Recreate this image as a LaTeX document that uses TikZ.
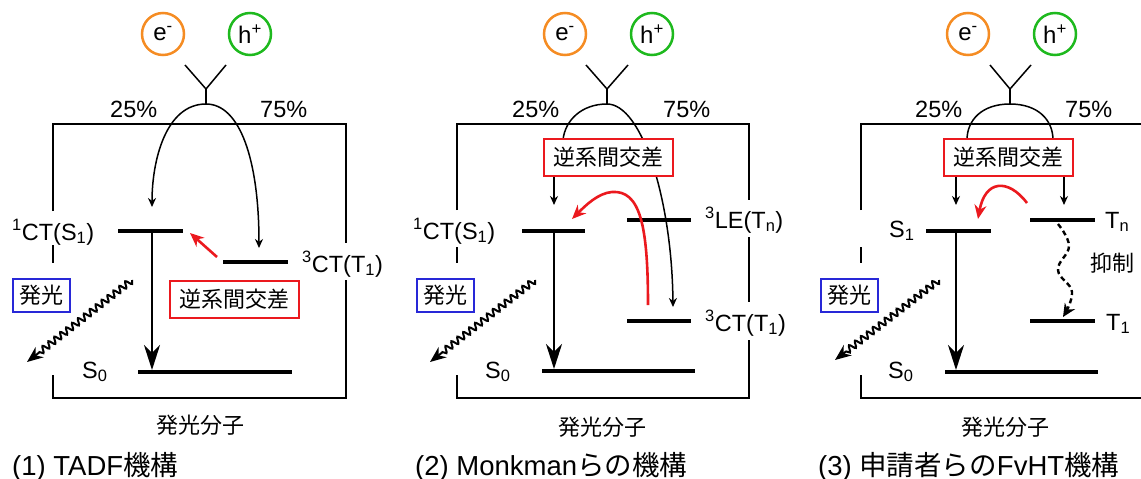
\documentclass[tikz,border=0pt]{standalone}
\usepackage{fontspec}
\setmainfont{Liberation Sans}
\newfontfamily\jp{Noto Sans CJK JP}
\usetikzlibrary{arrows.meta,decorations.pathmorphing,calc}
\definecolor{myorange}{RGB}{245,140,35}
\definecolor{mygreen}{RGB}{30,185,30}
\definecolor{myred}{RGB}{235,25,30}
\definecolor{myblue}{RGB}{40,40,215}
\tikzset{
  frame/.style={line width=1.6pt},
  thinln/.style={line width=1.5pt},
  level/.style={line width=4pt},
  sarr/.style={thinln,-{Stealth[length=9pt,width=8pt]}},
  bigarr/.style={line width=2.6pt,-{Stealth[length=25pt,width=16pt,inset=8pt]}},
  redarr/.style={draw=myred,line width=2.6pt,-{Stealth[length=14pt,width=12pt]}},
  wavy/.style={line width=2pt,decorate,decoration={snake,segment length=7.5pt,amplitude=3.2pt,post length=14pt},-{Stealth[length=16pt,width=13pt]}},
  lab/.style={font=\fontsize{23.5}{28}\selectfont,inner sep=0pt},
  jlab/.style={font=\jp\fontsize{22}{26}\selectfont,inner sep=0pt},
  title/.style={font=\fontsize{27.5}{32}\selectfont,inner sep=0pt,anchor=base west},
  circ/.style={circle,draw,line width=2.5pt,minimum size=42pt,inner sep=0pt,font=\fontsize{24}{28}\selectfont},
  redbox/.style={draw=myred,line width=2pt,fill=white,minimum width=129pt,minimum height=37pt,inner sep=0pt,font=\jp\fontsize{22}{26}\selectfont},
  bluebox/.style={draw=myblue,line width=2pt,fill=white,minimum width=57pt,minimum height=33pt,inner sep=0pt,font=\jp\fontsize{22}{26}\selectfont},
}
\begin{document}
\begin{tikzpicture}[x=1pt,y=-1pt]
\useasboundingbox (0,0) rectangle (1141,479);

% ================= Panel 1 =================
\node[circ,draw=myorange] (e1) at (163,34) {e\textsuperscript{-}};
\node[circ,draw=mygreen] (h1) at (250,34) {h\textsuperscript{+}};
\coordinate (ya1) at (185,65); \coordinate (yb1) at (226,65);
\coordinate (yc1) at (206,89); \coordinate (Y1) at (206,104);
\draw[thinln] (ya1) -- (yc1) -- (yb1); \draw[thinln] (yc1) -- (Y1);
\node[lab,anchor=base west] (p25a) at (110,117) {25\%};
\node[lab,anchor=base west] (p75a) at (260,117) {75\%};
% frame
\draw[frame] (53,211) -- (53,124) -- (346,124) -- (346,243);
\draw[frame] (53,245) -- (53,263);
\draw[frame] (53,375) -- (53,398) -- (346,398) -- (346,280);
% levels
\coordinate (s1a) at (118,231); \coordinate (s1b) at (183,231);
\coordinate (t1a) at (223,262); \coordinate (t1b) at (288,262);
\coordinate (s0a) at (138,372); \coordinate (s0b) at (292,372);
\draw[level] (s1a) -- (s1b); \draw[level] (t1a) -- (t1b); \draw[level] (s0a) -- (s0b);
\node[lab,anchor=base west] (l1s1) at (12,240) {\textsuperscript{1}CT(S\textsubscript{1})};
\node[lab,anchor=base west] (l1t1) at (302,272) {\textsuperscript{3}CT(T\textsubscript{1})};
\node[lab,anchor=base west] (l1s0) at (82,378) {S\textsubscript{0}};
% arcs
\coordinate (a1l) at (152,207); \coordinate (a1r) at (259,248);
\draw[sarr] (Y1) .. controls (166,104) and (152,160) .. (a1l);
\draw[sarr] (Y1) .. controls (240,104) and (259,160) .. (a1r);
% vertical
\coordinate (v1a) at (152,231); \coordinate (v1b) at (152,370);
\draw[bigarr] (v1a) -- (v1b);
% red arrow
\coordinate (r1a) at (217,257); \coordinate (r1b) at (190,233);
\draw[redarr] (r1a) -- (r1b);
\node[redbox] (rb1) at (234.5,299) {逆系間交差};
\node[bluebox] (bb1) at (41.5,295.5) {発光};
\coordinate (w1a) at (132,280); \coordinate (w1b) at (27,362);
\draw[wavy] (w1a) -- (w1b);
\node[jlab] (m1) at (200,425) {発光分子};
\node[title] (t1) at (12,475) {(1) TADF{\jp 機構}};

% ================= Panel 2 =================
\node[circ,draw=myorange] (e2) at (565,34) {e\textsuperscript{-}};
\node[circ,draw=mygreen] (h2) at (652,34) {h\textsuperscript{+}};
\coordinate (ya2) at (586,65); \coordinate (yb2) at (628,65);
\coordinate (yc2) at (607,89); \coordinate (Y2) at (607,104);
\draw[thinln] (ya2) -- (yc2) -- (yb2); \draw[thinln] (yc2) -- (Y2);
\node[lab,anchor=base west] (p25b) at (512,117) {25\%};
\node[lab,anchor=base west] (p75b) at (663,117) {75\%};
\draw[frame] (457,210) -- (457,124) -- (749,124) -- (749,200);
\draw[frame] (457,247) -- (457,263);
\draw[frame] (749,237) -- (749,302);
\draw[frame] (457,375) -- (457,398) -- (749,398) -- (749,340);
\coordinate (s1c) at (522,231); \coordinate (s1d) at (585,231);
\coordinate (tnc) at (627,220); \coordinate (tnd) at (691,220);
\coordinate (t1c) at (627,321); \coordinate (t1d) at (691,321);
\coordinate (s0c) at (542,371); \coordinate (s0d) at (695,371);
\draw[level] (s1c) -- (s1d); \draw[level] (tnc) -- (tnd); \draw[level] (t1c) -- (t1d); \draw[level] (s0c) -- (s0d);
\node[lab,anchor=base west] (l2s1) at (413,239) {\textsuperscript{1}CT(S\textsubscript{1})};
\node[lab,anchor=base west] (l2tn) at (705,228) {\textsuperscript{3}LE(T\textsubscript{n})};
\node[lab,anchor=base west] (l2t1) at (705,331) {\textsuperscript{3}CT(T\textsubscript{1})};
\node[lab,anchor=base west] (l2s0) at (485,378) {S\textsubscript{0}};
\coordinate (a2l) at (563,140); \coordinate (a2r) at (673,307);
\draw[thinln] (Y2) .. controls (582,104) and (565,120) .. (a2l);
\draw[sarr] (Y2) .. controls (642,104) and (672,200) .. (a2r);
\node[redbox] (rb2) at (608,157.5) {逆系間交差};
\coordinate (a2d) at (554,205);
\draw[sarr] (rb2.south -| a2d) -- (a2d);
\coordinate (v2a) at (554,231); \coordinate (v2b) at (554,369);
\draw[bigarr] (v2a) -- (v2b);
\coordinate (r2a) at (648,305); \coordinate (r2m) at (612,192); \coordinate (r2b) at (572,219);
\draw[redarr] (r2a) .. controls (648,225) and (640,190) .. (r2m) .. controls (598,193) and (585,206) .. (r2b);
\node[bluebox] (bb2) at (445,295.5) {発光};
\coordinate (w2a) at (535,280); \coordinate (w2b) at (430,362);
\draw[wavy] (w2a) -- (w2b);
\node[jlab] (m2) at (602,427) {発光分子};
\node[title] (t2) at (415,475) {(2) Monkman{\jp らの機構}};

% ================= Panel 3 =================
\node[circ,draw=myorange] (e3) at (968,34) {e\textsuperscript{-}};
\node[circ,draw=mygreen] (h3) at (1055,34) {h\textsuperscript{+}};
\coordinate (ya3) at (990,65); \coordinate (yb3) at (1031,65);
\coordinate (yc3) at (1010,89); \coordinate (Y3) at (1010,104);
\draw[thinln] (ya3) -- (yc3) -- (yb3); \draw[thinln] (yc3) -- (Y3);
\node[lab,anchor=base west] (p25c) at (915,117) {25\%};
\node[lab,anchor=base west] (p75c) at (1065,117) {75\%};
\draw[frame] (861,210) -- (861,124) -- (1145,124);
\draw[frame] (861,247) -- (861,263);
\draw[frame] (861,375) -- (861,398) -- (1145,398);
\coordinate (s1e) at (926,231); \coordinate (s1f) at (991,231);
\coordinate (tne) at (1030,220); \coordinate (tnf) at (1095,220);
\coordinate (t1e) at (1030,321); \coordinate (t1f) at (1095,321);
\coordinate (s0e) at (945,372); \coordinate (s0f) at (1098,372);
\draw[level] (s1e) -- (s1f); \draw[level] (tne) -- (tnf); \draw[level] (t1e) -- (t1f); \draw[level] (s0e) -- (s0f);
\node[lab,anchor=base west] (l3s1) at (889,237) {S\textsubscript{1}};
\node[lab,anchor=base west] (l3tn) at (1105,228) {T\textsubscript{n}};
\node[lab,anchor=base west] (l3t1) at (1106,330) {T\textsubscript{1}};
\node[lab,anchor=base west] (l3s0) at (888,378) {S\textsubscript{0}};
\node[jlab] (yk) at (1112,263) {抑制};
\coordinate (a3l) at (967,140); \coordinate (a3r) at (1053,140);
\draw[thinln] (Y3) .. controls (982,104) and (967,120) .. (a3l);
\draw[thinln] (Y3) .. controls (1038,104) and (1053,120) .. (a3r);
\node[redbox] (rb3) at (1008.5,157.5) {逆系間交差};
\coordinate (a3d) at (956,205); \coordinate (a3e) at (1064,205);
\draw[sarr] (rb3.south -| a3d) -- (a3d);
\draw[sarr] (rb3.south -| a3e) -- (a3e);
\coordinate (v3a) at (956,231); \coordinate (v3b) at (956,370);
\draw[bigarr] (v3a) -- (v3b);
\coordinate (r3a) at (1027,203); \coordinate (r3b) at (978,219);
\draw[redarr] (r3a) .. controls (1008,178) and (985,180) .. (r3b);
\coordinate (d3a) at (1058,224); \coordinate (d3b) at (1063,317);
\draw[line width=2.4pt,dash pattern=on 5pt off 3.5pt,-{Stealth[length=13pt,width=12pt]}]
  plot[smooth,tension=0.7] coordinates {(d3a) (1069,246) (1058,270) (1072,292) (d3b)};
\node[bluebox] (bb3) at (849,295.5) {発光};
\coordinate (w3a) at (939,280); \coordinate (w3b) at (835,360);
\draw[wavy] (w3a) -- (w3b);
\node[jlab] (m3) at (1005,427) {発光分子};
\node[title] (t3) at (818,475) {(3) {\jp 申請者らの}FvHT{\jp 機構}};
\end{tikzpicture}
\end{document}
